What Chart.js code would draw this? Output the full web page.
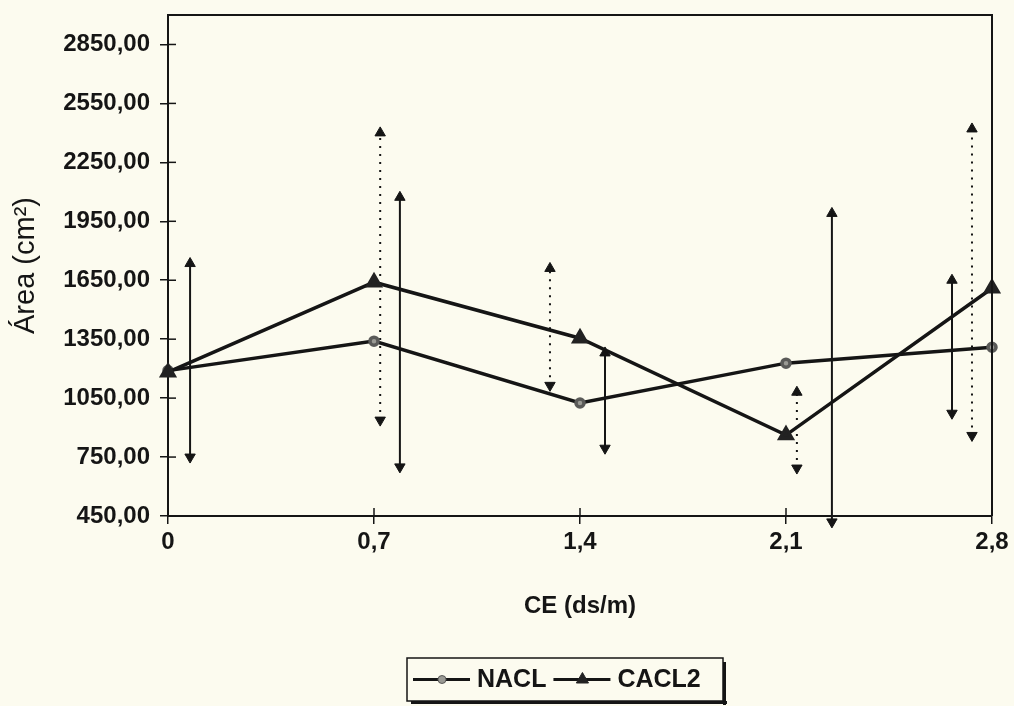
<!DOCTYPE html>
<html>
<head>
<meta charset="utf-8">
<script src="https://cdn.jsdelivr.net/npm/chart.js@4.4.1/dist/chart.umd.min.js"></script>
<style>
    body { margin: 0; background: #fcfbef; }
    #wrap { width: 1014px; height: 706px; }
</style>
</head>
<body>
<div id="wrap"><canvas id="areaChart" width="1014" height="706"></canvas></div>
<script>
const ceValues = [0, 0.7, 1.4, 2.1, 2.8];
const yTicks = [450, 750, 1050, 1350, 1650, 1950, 2250, 2550, 2850];
const naclArea = [1190, 1340, 1025, 1228, 1309];
const cacl2Area = [1182, 1640, 1355, 862, 1609];

// arrows drawn beside the points (x, low, high)
const solidBarX = [0.075, 0.788, 1.485, 2.256, 2.664];
const solidLow = [750, 700, 795, 420, 973];
const solidHigh = [1735, 2072, 1280, 1990, 1650];
const dottedBarX = [0.721, 1.298, 2.137, 2.732];
const dottedLow = [938, 1115, 694, 860];
const dottedHigh = [2400, 1710, 1080, 2420];

const ink = "#151515";
const font = "'Liberation Sans', Arial, sans-serif";

function arrowSets(xs, lows, highs, dash) {
    return xs.map((x, i) => ({
        label: "arrow",
        data: [{ x: x, y: lows[i] }, { x: x, y: highs[i] }],
        borderColor: ink,
        backgroundColor: ink,
        borderWidth: 2,
        borderDash: dash,
        pointStyle: "triangle",
        pointRadius: 6,
        pointRotation: [180, 0],
        pointBorderWidth: 1,
        clip: false,
        order: 2,
    }));
}

const frame = {
    id: "frame",
    afterDraw(chart) {
        const { ctx, chartArea: a, scales } = chart;
        ctx.save();
        ctx.strokeStyle = ink;
        ctx.lineWidth = 2;
        ctx.beginPath();
        ctx.moveTo(a.left, a.top);
        ctx.lineTo(a.right, a.top);
        ctx.lineTo(a.right, a.bottom);
        ctx.stroke();
        // inner half of the crossing ticks
        ctx.lineWidth = 1.5;
        yTicks.forEach(v => {
            const y = scales.y.getPixelForValue(v);
            ctx.beginPath();
            ctx.moveTo(a.left, y);
            ctx.lineTo(a.left + 8, y);
            ctx.stroke();
        });
        ceValues.forEach(v => {
            const x = scales.x.getPixelForValue(v);
            ctx.beginPath();
            ctx.moveTo(x, a.bottom);
            ctx.lineTo(x, a.bottom - 8);
            ctx.stroke();
        });

        // legend box
        const bx = 407, by = 658, bw = 316, bh = 43;
        ctx.fillStyle = ink;
        ctx.fillRect(bx + 4, by + bh, bw, 3);
        ctx.fillRect(bx + bw, by + 4, 3, bh);
        ctx.fillStyle = "#fcfbef";
        ctx.fillRect(bx, by, bw, bh);
        ctx.lineWidth = 1.5;
        ctx.strokeRect(bx, by, bw, bh);

        const items = chart.data.datasets.filter(d => d.label !== "arrow");
        let x = bx + 6;
        const cy = by + bh / 2;
        items.forEach(d => {
            ctx.strokeStyle = ink;
            ctx.lineWidth = 3;
            ctx.setLineDash([]);
            ctx.beginPath();
            ctx.moveTo(x, cy);
            ctx.lineTo(x + 57, cy);
            ctx.stroke();
            ctx.fillStyle = d.pointBackgroundColor;
            ctx.strokeStyle = d.pointBorderColor;
            ctx.lineWidth = 1;
            Chart.helpers.drawPoint(ctx, { pointStyle: d.pointStyle, radius: d.pointRadius, rotation: 0, borderWidth: 1 }, x + 29, cy);
            ctx.fillStyle = ink;
            ctx.font = "bold 25px " + font;
            ctx.textBaseline = "middle";
            ctx.fillText(d.label, x + 64, cy + 1);
            x += 64 + ctx.measureText(d.label).width + 7;
        });
        ctx.restore();
    },
};

const chart = new Chart(document.getElementById("areaChart"), {
    type: "line",
    data: {
        datasets: [
            {
                label: "NACL",
                data: ceValues.map((x, i) => ({ x: x, y: naclArea[i] })),
                borderColor: ink,
                borderWidth: 3.5,
                pointStyle: "circle",
                pointRadius: 4,
                pointBackgroundColor: "#9a9a94",
                pointBorderColor: "#5a5a58",
                clip: false,
                order: 1,
            },
            {
                label: "CACL2",
                data: ceValues.map((x, i) => ({ x: x, y: cacl2Area[i] })),
                borderColor: ink,
                borderWidth: 3.5,
                pointStyle: "triangle",
                pointRadius: 7,
                pointBackgroundColor: "#222",
                pointBorderColor: "#222",
                clip: false,
                order: 0,
            },
            ...arrowSets(solidBarX, solidLow, solidHigh, []),
            ...arrowSets(dottedBarX, dottedLow, dottedHigh, [2, 6]),
        ],
    },
    options: {
        responsive: false,
        animation: false,
        layout: { padding: { top: 15, right: 22, bottom: 85, left: 0 } },
        plugins: { legend: { display: false }, tooltip: { enabled: false } },
        scales: {
            x: {
                type: "linear",
                min: 0,
                max: 2.8,
                afterBuildTicks: s => { s.ticks = ceValues.map(v => ({ value: v })); },
                afterFit: s => { s.height = 105; s.paddingLeft = 0; s.paddingRight = 0; },
                grid: { drawOnChartArea: false, color: ink, tickLength: 8, lineWidth: 1.5 },
                border: { color: ink, width: 2 },
                ticks: {
                    color: ink,
                    padding: 4,
                    font: { family: font, size: 24, weight: "bold" },
                    callback: v => String(v).replace(".", ","),
                },
                title: {
                    display: true,
                    text: "CE (ds/m)",
                    color: ink,
                    padding: { top: 0, bottom: 0 },
                    font: { family: font, size: 24, weight: "bold" },
                },
            },
            y: {
                min: 450,
                max: 3000,
                afterBuildTicks: s => { s.ticks = yTicks.map(v => ({ value: v })); },
                afterFit: s => { s.width = 168; s.paddingTop = 0; s.paddingBottom = 0; },
                grid: { drawOnChartArea: false, color: ink, tickLength: 8, lineWidth: 1.5 },
                border: { color: ink, width: 2 },
                ticks: {
                    color: ink,
                    padding: 10,
                    font: { family: font, size: 24, weight: "bold" },
                    callback: v => v.toFixed(2).replace(".", ","),
                },
                title: {
                    display: true,
                    text: "Área (cm²)",
                    color: ink,
                    padding: { top: 9, bottom: 0 },
                    font: { family: font, size: 29 },
                },
            },
        },
    },
    plugins: [frame],
});
</script>
</body>
</html>
